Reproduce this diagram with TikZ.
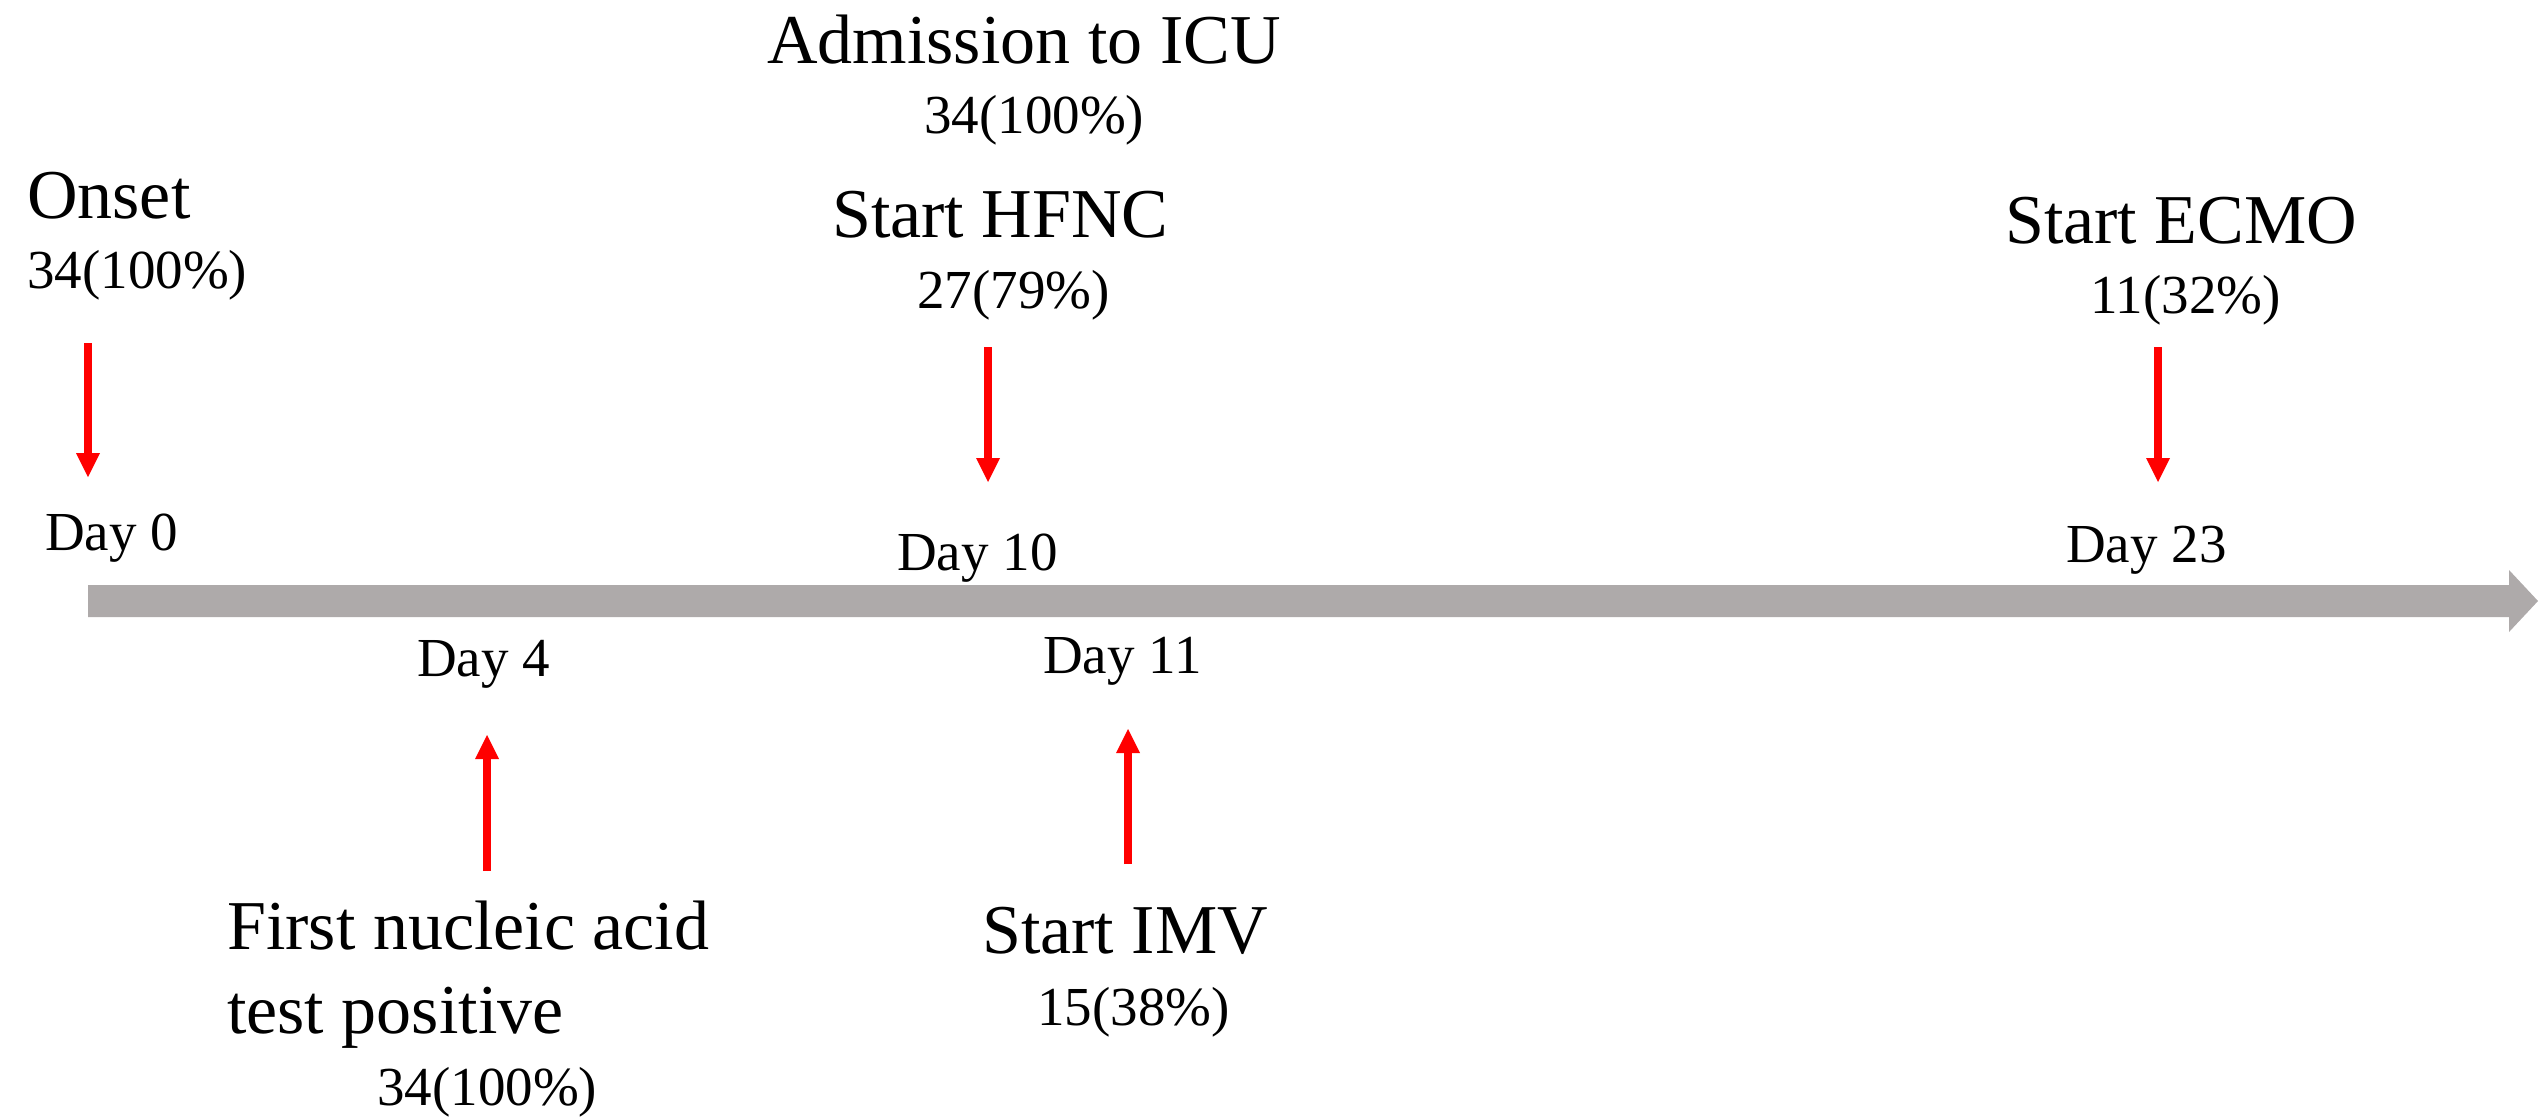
\documentclass[tikz,border=0pt]{standalone}
\usepackage{fontspec}
\setmainfont{Liberation Serif}
\usetikzlibrary{arrows.meta}
\definecolor{tlgray}{HTML}{AEAAAA}
\definecolor{evred}{HTML}{FF0000}
\begin{document}
\begin{tikzpicture}[x=1bp,y=-1bp,
  bigtxt/.style={font=\fontsize{70bp}{84bp}\selectfont, inner sep=0pt, anchor=base west},
  smalltxt/.style={font=\fontsize{55bp}{66bp}\selectfont, inner sep=0pt, anchor=base west},
  redarrow/.style={draw=evred, line width=8bp, -{Triangle[length=24bp,width=24bp,line width=0pt]}, fill=evred}
]
\useasboundingbox (0,0) rectangle (2539,1118);

% timeline
\coordinate (tlA) at (88,585);
\coordinate (tlB) at (2509,585);
\coordinate (tlC) at (2509,570);
\coordinate (tlTip) at (2538,601);
\coordinate (tlD) at (2509,632);
\coordinate (tlE) at (2509,617);
\coordinate (tlF) at (88,617);
\fill[tlgray] (tlA) -- (tlB) -- (tlC) -- (tlTip) -- (tlD) -- (tlE) -- (tlF) -- cycle;

% Day 0
\node[bigtxt] (onset) at (27,218) {Onset};
\node[smalltxt] (onsetn) at (27,288) {34(100\%)};
\node[smalltxt] (day0) at (45,550) {Day 0};
\coordinate (r1s) at (88,343);
\coordinate (r1e) at (88,477);
\draw[redarrow] (r1s) -- (r1e);

% Day 10
\node[bigtxt] (icu) at (767,63) {Admission to ICU};
\node[smalltxt] (icun) at (924,133) {34(100\%)};
\node[bigtxt] (hfnc) at (832,237) {Start HFNC};
\node[smalltxt] (hfncn) at (917,308) {27(79\%)};
\node[smalltxt] (day10) at (897,570) {Day 10};
\coordinate (r2s) at (988,347);
\coordinate (r2e) at (988,482);
\draw[redarrow] (r2s) -- (r2e);

% Day 23
\node[bigtxt] (ecmo) at (2005,243) {Start ECMO};
\node[smalltxt] (ecmon) at (2090,313) {11(32\%)};
\node[smalltxt] (day23) at (2066,562) {Day 23};
\coordinate (r3s) at (2158,347);
\coordinate (r3e) at (2158,482);
\draw[redarrow] (r3s) -- (r3e);

% Day 4
\node[smalltxt] (day4) at (417,676) {Day 4};
\node[bigtxt] (nat1) at (227,949) {First nucleic acid};
\node[bigtxt] (nat2) at (227,1033) {test positive};
\node[smalltxt] (natn) at (377,1105) {34(100\%)};
\coordinate (r4s) at (487,871);
\coordinate (r4e) at (487,735);
\draw[redarrow] (r4s) -- (r4e);

% Day 11
\node[smalltxt] (day11) at (1043,673) {Day 11};
\node[bigtxt] (imv) at (982,953) {Start IMV};
\node[smalltxt] (imvn) at (1037,1025) {15(38\%)};
\coordinate (r5s) at (1128,864);
\coordinate (r5e) at (1128,729);
\draw[redarrow] (r5s) -- (r5e);
\end{tikzpicture}
\end{document}
